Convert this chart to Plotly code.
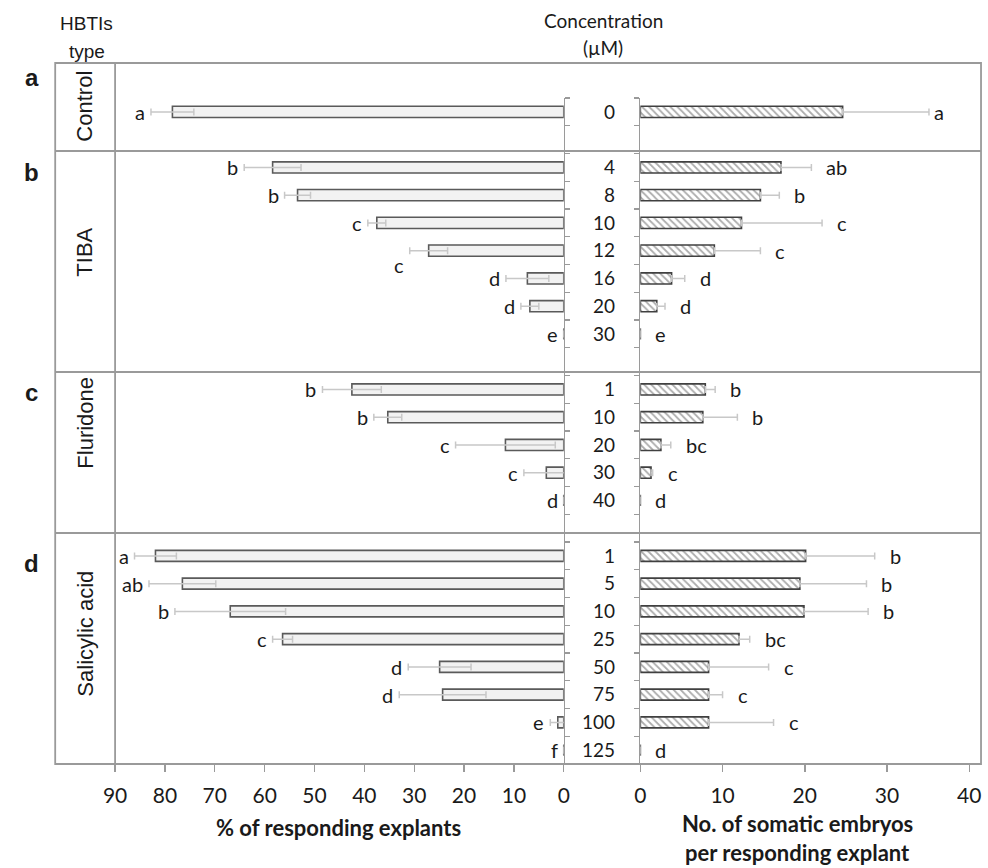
import plotly.graph_objects as go

# ---------------- data ----------------
groups = ["Control", "TIBA", "Fluridone", "Salicylic acid"]
panel_letters = ["a", "b", "c", "d"]

conc_control = ["0"]
conc_tiba = ["4", "8", "10", "12", "16", "20", "30"]
conc_flur = ["1", "10", "20", "30", "40"]
conc_sa = ["1", "5", "10", "25", "50", "75", "100", "125"]

# % of responding explants (mean, error)
pct_control = [78.5]
pct_control_err = [4.3]
pct_tiba = [58.4, 53.4, 37.5, 27.1, 7.3, 6.8, 0]
pct_tiba_err = [5.7, 2.6, 1.8, 3.8, 4.3, 1.8, 0]
pct_flur = [42.5, 35.3, 11.7, 3.5, 0]
pct_flur_err = [5.9, 2.8, 10.0, 4.5, 0]
pct_sa = [81.9, 76.5, 66.9, 56.4, 24.9, 24.3, 1.2, 0]
pct_sa_err = [4.2, 6.7, 11.1, 2.0, 6.3, 8.7, 1.5, 0]

pct_letters_control = ["a"]
pct_letters_tiba = ["b", "b", "c", "c", "d", "d", "e"]
pct_letters_flur = ["b", "b", "c", "c", "d"]
pct_letters_sa = ["a", "ab", "b", "c", "d", "d", "e", "f"]

# No. of somatic embryos per responding explant (mean, error)
emb_control = [24.6]
emb_control_err = [10.5]
emb_tiba = [17.1, 14.6, 12.3, 9.0, 3.8, 2.0, 0]
emb_tiba_err = [3.7, 2.3, 9.8, 5.6, 1.6, 1.0, 0]
emb_flur = [7.9, 7.6, 2.5, 1.3, 0]
emb_flur_err = [1.2, 4.2, 1.2, 0.2, 0]
emb_sa = [20.1, 19.4, 19.9, 12.0, 8.3, 8.3, 8.3, 0]
emb_sa_err = [8.4, 8.1, 7.8, 1.3, 7.3, 1.7, 7.9, 0]

emb_letters_control = ["a"]
emb_letters_tiba = ["ab", "b", "c", "c", "d", "d", "e"]
emb_letters_flur = ["b", "b", "bc", "c", "d"]
emb_letters_sa = ["b", "b", "b", "bc", "c", "c", "c", "d"]

pct_ticks = [0, 10, 20, 30, 40, 50, 60, 70, 80, 90]
emb_ticks = [0, 10, 20, 30, 40]

# ---------------- assemble ----------------
conc_groups = [conc_control, conc_tiba, conc_flur, conc_sa]
pct_v = pct_control + pct_tiba + pct_flur + pct_sa
pct_e = pct_control_err + pct_tiba_err + pct_flur_err + pct_sa_err
pct_l = pct_letters_control + pct_letters_tiba + pct_letters_flur + pct_letters_sa
emb_v = emb_control + emb_tiba + emb_flur + emb_sa
emb_e = emb_control_err + emb_tiba_err + emb_flur_err + emb_sa_err
emb_l = emb_letters_control + emb_letters_tiba + emb_letters_flur + emb_letters_sa

# category slots: one blank slot after each group
pos, labels = [], []
k = 0
for g in conc_groups:
    for c in g:
        pos.append(k)
        labels.append(c)
        k += 1
    k += 1

W, H = 988, 868
def px(x):
    return x / W
def py(y):
    return 1 - y / H

GRID = "#9a9a9a"
TXT = "#1a1a1a"
ERR = "#c8c8c8"
FONT = "Lato"
FONT2 = "Liberation Sans"

fig = go.Figure()
fig.add_trace(go.Bar(
    x=pct_v, y=pos, orientation="h", width=0.4,
    xaxis="x", yaxis="y",
    marker=dict(color="#f2f2f2", line=dict(color="#5a5a5a", width=1.6)),
    error_x=dict(type="data", array=pct_e, symmetric=True, color=ERR,
                 thickness=1.5, width=3.5),
    hoverinfo="skip",
))
fig.add_trace(go.Bar(
    x=emb_v, y=pos, orientation="h", width=0.4,
    xaxis="x2", yaxis="y2",
    marker=dict(color="white", line=dict(color="#404040", width=1.6),
                pattern=dict(shape="\\", fgcolor="#5a5a5a", bgcolor="white",
                             size=5, solidity=0.35)),
    error_x=dict(type="data", array=emb_e, arrayminus=[0] * len(emb_e),
                 symmetric=False, color=ERR, thickness=1.5, width=3.5),
    hoverinfo="skip",
))

annotations = []
# significance letters, left panel
nudge_left = {4: (0, -14)}
for i, (v, e, t) in enumerate(zip(pct_v, pct_e, pct_l)):
    dx, dy = nudge_left.get(i, (0, 0))
    annotations.append(dict(x=v + e, y=pos[i], xref="x", yref="y", text=t,
                            xanchor="right", yanchor="middle", xshift=-4 + dx,
                            yshift=dy, showarrow=False,
                            font=dict(family=FONT, size=20, color=TXT)))
# significance letters, right panel
nudge_right = {0: (-10, 0)}
for i, (v, e, t) in enumerate(zip(emb_v, emb_e, emb_l)):
    dx, dy = nudge_right.get(i, (0, 0))
    annotations.append(dict(x=v + e, y=pos[i], xref="x2", yref="y2", text=t,
                            xanchor="left", yanchor="middle", xshift=13 + dx,
                            yshift=dy, showarrow=False,
                            font=dict(family=FONT, size=20, color=TXT)))

# group labels (rotated) and panel letters
group_y = [106, 252, 423, 634]
letter_y = [77, 172, 392, 563]
for g, gy, pl, ly in zip(groups, group_y, panel_letters, letter_y):
    annotations.append(dict(x=px(74), y=py(gy), xref="paper", yref="paper",
                            text=g, textangle=-90, showarrow=False,
                            xanchor="center", yanchor="middle",
                            font=dict(family=FONT2, size=22, color=TXT)))
    annotations.append(dict(x=px(20), y=py(ly), xref="paper", yref="paper",
                            text="<b>%s</b>" % pl, showarrow=False,
                            xanchor="center", yanchor="middle",
                            font=dict(family=FONT2, size=24, color=TXT)))

# headers
for t, x, y, f, s in [("HBTIs", 76, 23, FONT2, 19), ("type", 76, 52, FONT2, 19),
                      ("Concentration", 602, 20, FONT, 19), ("(µM)", 602, 48, FONT, 19)]:
    annotations.append(dict(x=px(x), y=py(y), xref="paper", yref="paper", text=t,
                            showarrow=False, xanchor="center", yanchor="middle",
                            font=dict(family=f, size=s, color=TXT)))

# axis titles
for t, x, y in [("% of responding explants", 333, 827),
                ("No. of somatic embryos", 800, 823),
                ("per responding explant", 800, 852)]:
    annotations.append(dict(x=px(x), y=py(y), xref="paper", yref="paper",
                            text="<b>%s</b>" % t, showarrow=False,
                            xanchor="center", yanchor="middle",
                            font=dict(family=FONT, size=22, color=TXT)))

# frame and dividers
shapes = [dict(type="rect", xref="paper", yref="paper", x0=px(44), x1=px(987),
               y0=py(764), y1=py(63), line=dict(color=GRID, width=1.8)),
          dict(type="line", xref="paper", yref="paper", x0=px(105), x1=px(105),
               y0=py(764), y1=py(63), line=dict(color=GRID, width=1.8))]
for dy in [151, 372, 533]:
    shapes.append(dict(type="line", xref="paper", yref="paper", x0=px(44), x1=px(987),
                       y0=py(dy), y1=py(dy), line=dict(color=GRID, width=1.8)))

minor_vals = [p - 0.5 for p in range(0, k)]
ydom = [py(764), py(98)]
yrange = [k - 1.5, -0.5]

common_y = dict(domain=ydom, range=yrange, autorange=False, showgrid=False,
                zeroline=False, showline=True, linecolor=GRID, linewidth=1.6,
                minor=dict(tickmode="array", tickvals=minor_vals, ticks="outside",
                           ticklen=5, tickcolor=GRID, tickwidth=1.2, showgrid=False))

fig.update_layout(
    width=W, height=H,
    margin=dict(l=0, r=0, t=0, b=0),
    paper_bgcolor="white", plot_bgcolor="white",
    showlegend=False, barmode="overlay",
    xaxis=dict(domain=[px(105), px(562)], range=[90, 0], autorange=False,
               anchor="y", tickmode="array", tickvals=pct_ticks,
               ticks="outside", ticklen=7, tickcolor=GRID, tickwidth=1.4,
               showline=False, showgrid=False, zeroline=False,
               tickfont=dict(family=FONT, size=21, color=TXT),
               ticklabelstandoff=6),
    xaxis2=dict(domain=[px(640), px(987)], range=[0, 41.43], autorange=False,
                anchor="y2", tickmode="array", tickvals=emb_ticks,
                ticks="outside", ticklen=7, tickcolor=GRID, tickwidth=1.4,
                showline=False, showgrid=False, zeroline=False,
                tickfont=dict(family=FONT, size=21, color=TXT),
                ticklabelstandoff=6),
    yaxis=dict(anchor="x", side="right", showticklabels=False, ticks="",
               **common_y),
    yaxis2=dict(anchor="x2", side="left", tickmode="array", tickvals=pos,
                ticktext=labels, ticks="", ticklabelstandoff=20,
                tickfont=dict(family=FONT, size=19, color=TXT), **common_y),
    annotations=annotations,
    shapes=shapes,
)

fig.write_html("out.html",
               config={"displayModeBar": False, "staticPlot": True},
               post_script="document.body.style.margin='0';"
                           "document.body.style.overflow='hidden';")
